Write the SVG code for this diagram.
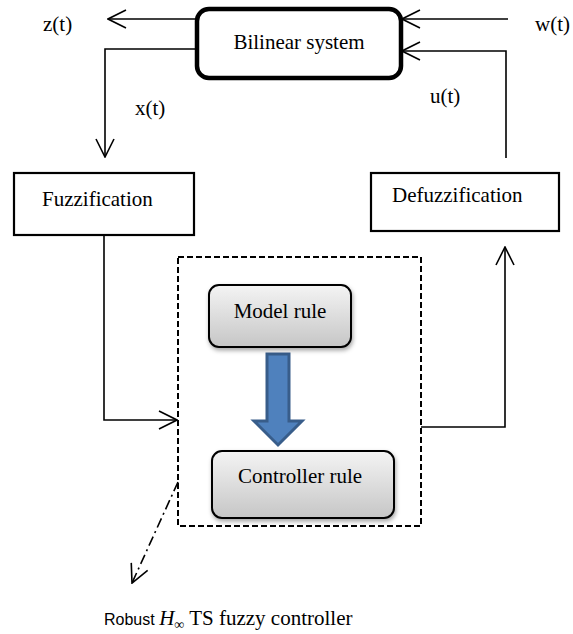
<svg xmlns="http://www.w3.org/2000/svg" width="573" height="634" viewBox="0 0 573 634">
<style>
.t{font-family:"Liberation Serif","Times New Roman",serif;font-size:21px;fill:#000}
.ln{fill:none;stroke:#000;stroke-width:1.6}
.box{fill:#fff;stroke:#000;stroke-width:2.2}
.rule{fill:url(#grey);stroke:#000;stroke-width:2;filter:url(#sh)}
</style>
<defs>
<linearGradient id="grey" x1="0" y1="0" x2="0" y2="1">
<stop offset="0" stop-color="#f4f4f4"/>
<stop offset="1" stop-color="#c6c6c6"/>
</linearGradient>
<filter id="sh" x="-10%" y="-10%" width="130%" height="140%">
<feDropShadow dx="1" dy="2.5" stdDeviation="2" flood-color="#000" flood-opacity="0.35"/>
</filter>
<marker id="open" viewBox="0 0 20 20" markerWidth="20" markerHeight="20" markerUnits="userSpaceOnUse" refX="19" refY="10" orient="auto">
<path d="M1,1 L19,10 L1,19" fill="none" stroke="#000" stroke-width="1.6"/>
</marker>
</defs>

<g id="connectors">
<path class="ln" d="M197,19 H108" marker-end="url(#open)"/>
<path class="ln" d="M197,49 H105 V157" marker-end="url(#open)"/>
<path class="ln" d="M508,19 H402" marker-end="url(#open)"/>
<path class="ln" d="M506,158 V51 H402" marker-end="url(#open)"/>
<path class="ln" d="M104,235 V420 H177" marker-end="url(#open)"/>
<path class="ln" d="M421,427 H505 V247" marker-end="url(#open)"/>
<path class="ln" d="M178,482 L132,583" stroke-dasharray="10 4 2 4" marker-end="url(#open)"/>
<polygon points="267,354 289,354 289,421 302,421 278,445 254,421 267,421" fill="#4f81bd" stroke="#385d8a" stroke-width="3" stroke-linejoin="miter"/>
</g>

<g id="bilinear">
<rect x="197" y="9" width="204" height="69" rx="12" fill="#fff" stroke="#000" stroke-width="4.5"/>
<text class="t" x="299" y="49" text-anchor="middle">Bilinear system</text>
</g>

<g id="fuzzification">
<rect class="box" x="14" y="173" width="180" height="62"/>
<text class="t" x="42" y="206">Fuzzification</text>
</g>

<g id="defuzzification">
<rect class="box" x="371" y="173" width="188" height="58"/>
<text class="t" x="392" y="202">Defuzzification</text>
</g>

<g id="controller">
<rect x="178" y="257" width="243" height="269" fill="none" stroke="#000" stroke-width="2" stroke-dasharray="6 3"/>
</g>

<g id="model-rule">
<rect class="rule" x="209" y="285" width="142" height="62" rx="10"/>
<text class="t" x="280" y="318" text-anchor="middle">Model rule</text>
</g>

<g id="controller-rule">
<rect class="rule" x="212" y="451" width="182" height="67" rx="10"/>
<text class="t" x="300" y="483" text-anchor="middle">Controller rule</text>
</g>

<g id="labels">
<text class="t" x="43" y="31">z(t)</text>
<text class="t" x="135" y="115">x(t)</text>
<text class="t" x="535" y="31">w(t)</text>
<text class="t" x="430" y="103">u(t)</text>
<text class="t" x="104" y="625"><tspan font-family="Liberation Sans, Arial, sans-serif" font-size="16">Robust </tspan><tspan font-style="italic">H</tspan><tspan font-size="14" dy="4">∞</tspan><tspan dy="-4"> TS fuzzy controller</tspan></text>
</g>
</svg>
